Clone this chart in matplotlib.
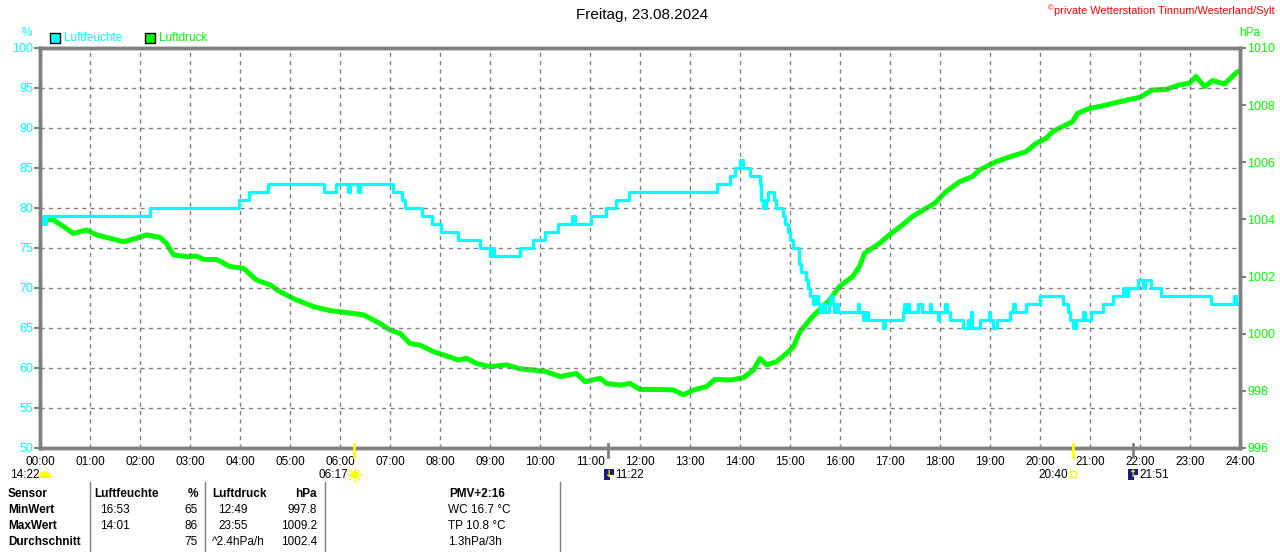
import matplotlib
matplotlib.use("Agg")
import matplotlib.pyplot as plt
from matplotlib.patches import Rectangle, Wedge, Circle

plt.rcParams['font.family'] = ['Liberation Sans', 'DejaVu Sans']

# ---------------- data ----------------
title = "Freitag, 23.08.2024"
copyright_text = "private Wetterstation Tinnum/Westerland/Sylt"
hours = list(range(25))
hour_labels = [f"{h:02d}:00" for h in hours]
hum_ticks = [50, 55, 60, 65, 70, 75, 80, 85, 90, 95, 100]
press_ticks = [996, 998, 1000, 1002, 1004, 1006, 1008, 1010]

# humidity (%) - step series (time in hours, value)
hum_t = [0.0, 0.05, 0.08, 0.12, 2.19, 3.97, 4.18, 4.55, 5.67, 5.91, 6.15, 6.2,
         6.35, 6.4, 7.05, 7.23, 7.3, 7.63, 7.83, 8.03, 8.37, 8.8, 9.0, 9.04,
         9.07, 9.6, 9.85, 10.1, 10.35, 10.63, 10.7, 11.01, 11.32, 11.52, 11.77,
         13.53, 13.8, 13.9, 14.0, 14.05, 14.2, 14.39, 14.42, 14.45, 14.52, 14.55,
         14.67, 14.72, 14.8, 14.85, 14.9, 14.95, 15.0, 15.05, 15.18, 15.22, 15.32,
         15.36, 15.40, 15.45, 15.5, 15.55, 15.6, 15.65, 15.7, 15.77, 15.8, 15.85,
         15.88, 15.92, 15.96, 16.35, 16.38, 16.45, 16.5, 16.55, 16.86, 16.9,
         17.25, 17.28, 17.31, 17.34, 17.37, 17.55, 17.65, 17.8, 17.83, 17.95,
         17.98, 18.1, 18.13, 18.2, 18.45, 18.55, 18.58, 18.62, 18.65, 18.8,
         18.97, 19.0, 19.05, 19.15, 19.39, 19.45, 19.5, 19.72, 19.99, 20.45,
         20.55, 20.6, 20.65, 20.72, 20.85, 20.9, 21.02, 21.25, 21.45, 21.65,
         21.72, 21.76, 21.95, 22.06, 22.1, 22.21, 22.42, 23.42, 23.88, 23.92, 24.0]
hum_v = [78, 79, 78, 79, 80, 81, 82, 83, 82, 83, 82, 83,
         82, 83, 82, 81, 80, 79, 78, 77, 76, 75, 74, 75,
         74, 75, 76, 77, 78, 79, 78, 79, 80, 81, 82,
         83, 84, 85, 86, 85, 84, 83, 81, 80, 81, 82,
         81, 80, 80, 79, 78, 77, 76, 75, 73, 72, 71,
         70, 69, 68, 69, 68, 67, 68, 67, 68, 69, 68,
         67, 68, 67, 68, 67, 66, 67, 66, 65, 66,
         67, 68, 67, 68, 67, 68, 67, 68, 67, 66,
         67, 68, 67, 66, 65, 66, 65, 67, 65, 66,
         67, 66, 65, 66, 67, 68, 67, 68, 69, 68,
         67, 66, 65, 66, 67, 66, 67, 68, 69, 70,
         69, 70, 71, 70, 71, 70, 69, 68, 69, 68, 68]

# air pressure (hPa)
press_t = [0.0, 0.1, 0.27, 0.47, 0.67, 0.93, 1.13, 1.4, 1.67, 1.93, 2.13, 2.4,
           2.53, 2.67, 2.93, 3.13, 3.27, 3.53, 3.8, 4.07, 4.33, 4.6, 4.8, 5.13,
           5.47, 5.8, 6.13, 6.47, 6.8, 7.0, 7.2, 7.4, 7.6, 7.87, 8.07, 8.37,
           8.53, 8.73, 9.0, 9.33, 9.6, 9.87, 10.13, 10.4, 10.73, 10.9, 11.2,
           11.33, 11.6, 11.8, 12.0, 12.4, 12.67, 12.87, 13.07, 13.33, 13.5,
           13.8, 14.07, 14.27, 14.4, 14.53, 14.73, 14.93, 15.07, 15.2, 15.45,
           15.79, 15.99, 16.25, 16.39, 16.49, 16.59, 16.79, 16.99, 17.25,
           17.45, 17.72, 17.89, 18.12, 18.39, 18.65, 18.79, 19.12, 19.45,
           19.72, 19.92, 20.12, 20.25, 20.45, 20.65, 20.75, 20.99, 21.19,
           21.45, 21.79, 21.99, 22.25, 22.52, 22.79, 22.99, 23.12, 23.29,
           23.45, 23.69, 23.95, 24.0]
press_v = [1003.9, 1004.0, 1003.98, 1003.75, 1003.51, 1003.63, 1003.46, 1003.34,
           1003.22, 1003.34, 1003.46, 1003.37, 1003.16, 1002.76, 1002.70, 1002.72,
           1002.60, 1002.60, 1002.35, 1002.29, 1001.88, 1001.71, 1001.47, 1001.18,
           1000.95, 1000.81, 1000.74, 1000.66, 1000.36, 1000.13, 1000.01, 999.66,
           999.60, 999.37, 999.26, 999.08, 999.14, 998.96, 998.85, 998.91, 998.77,
           998.73, 998.67, 998.50, 998.61, 998.32, 998.44, 998.26, 998.20, 998.26,
           998.05, 998.05, 998.03, 997.86, 998.03, 998.15, 998.40, 998.38, 998.46,
           998.73, 999.14, 998.91, 999.02, 999.31, 999.55, 1000.07, 1000.60,
           1001.18, 1001.65, 1002.00, 1002.35, 1002.81, 1002.93, 1003.16, 1003.46,
           1003.81, 1004.10, 1004.39, 1004.56, 1004.97, 1005.32, 1005.50, 1005.73,
           1006.02, 1006.22, 1006.37, 1006.66, 1006.84, 1007.07, 1007.25, 1007.42,
           1007.71, 1007.89, 1007.95, 1008.06, 1008.20, 1008.27, 1008.53, 1008.55,
           1008.71, 1008.77, 1009.00, 1008.65, 1008.86, 1008.74, 1009.17, 1009.2]

# sun / moon events
sunrise_t, sunrise_lbl = 6 + 17 / 60, "06:17"
sunset_t, sunset_lbl = 20 + 40 / 60, "20:40"
moon1_t, moon1_lbl = 11 + 22 / 60, "11:22"
moon2_t, moon2_lbl = 21 + 51 / 60, "21:51"
daylen_lbl = "14:22"

# table
tbl_header = ["Sensor", "Luftfeuchte", "%", "Luftdruck", "hPa", "PMV+2:16"]
tbl_rows = ["MinWert", "MaxWert", "Durchschnitt"]
hum_times = ["16:53", "14:01", ""]
hum_vals = ["65", "86", "75"]
press_times = ["12:49", "23:55", "^2.4hPa/h"]
press_vals = ["997.8", "1009.2", "1002.4"]
extra_vals = ["WC 16.7 °C", "TP 10.8 °C", "1.3hPa/3h"]

CYAN = "#00FFFF"
GREEN = "#00FF00"
GRAY = "#808080"
YELLOW = "#FFFF00"

W, H = 1280, 552
fig = plt.figure(figsize=(W / 100, H / 100), dpi=100)
ax = fig.add_axes([40 / W, 1 - 448 / H, 1200 / W, 400 / H])
ax2 = ax.twinx()

ax.set_xlim(0, 24)
ax.set_ylim(50, 100)
ax2.set_ylim(996, 1010)
ax.set_zorder(ax2.get_zorder() + 1)
ax.patch.set_visible(False)

ax.grid(True, color=GRAY, linestyle=(0, (3, 3)), linewidth=1)
ax.set_axisbelow(True)

ax2.plot(press_t, press_v, color=GREEN, linewidth=3.6, solid_capstyle='butt')
ax.step(hum_t, hum_v, where='post', color=CYAN, linewidth=2.3)

for a in (ax, ax2):
    for s in a.spines.values():
        s.set_color(GRAY)
        s.set_linewidth(2.5)

ax.set_xticks(hours)
ax.set_xticklabels(hour_labels)
ax.set_yticks(hum_ticks)
ax.set_yticklabels([str(v) for v in hum_ticks])
ax2.set_yticks(press_ticks)
ax2.set_yticklabels([str(v) for v in press_ticks])
ax.tick_params(axis='x', length=0, pad=6, labelsize=8.5, labelcolor='black')
ax.tick_params(axis='y', length=4, width=1.5, color=GRAY, pad=1,
               labelsize=9, labelcolor=CYAN)
ax2.tick_params(axis='y', length=4, width=1.5, color=GRAY, pad=1,
                labelsize=9, labelcolor=GREEN)

# sun / moon markers on the time axis
xt = ax.get_xaxis_transform()
px = 1 / 400.0
for t, col, lw in [(sunrise_t, YELLOW, 2), (sunset_t, YELLOW, 2),
                   (moon1_t, GRAY, 2), (moon2_t, GRAY, 2)]:
    ax.plot([t, t], [4 * px, -9 * px], color=col, linewidth=lw,
            transform=xt, clip_on=False, zorder=5)

ty = -27 * px
lfs = 8.5
ax.text(sunrise_t - 0.11, ty, sunrise_lbl, transform=xt, ha='right', va='center', fontsize=lfs)
ax.text(sunset_t - 0.1, ty, sunset_lbl, transform=xt, ha='right', va='center', fontsize=lfs)
ax.text(moon1_t + 0.13, ty, moon1_lbl, transform=xt, ha='left', va='center', fontsize=lfs)
ax.text(moon2_t + 0.13, ty, moon2_lbl, transform=xt, ha='left', va='center', fontsize=lfs)

# overlay in pixel coordinates for decorations
ov = fig.add_axes([0, 0, 1, 1], zorder=10)
ov.set_xlim(0, W)
ov.set_ylim(H, 0)
ov.axis('off')
ov.patch.set_visible(False)

# icons
ov.add_patch(Circle((355, 475), 4, facecolor=YELLOW, edgecolor='none'))
for dx, dy in [(0, -7), (0, 7), (-7, 0), (7, 0), (5, 5), (-5, 5), (5, -5), (-5, -5)]:
    ov.plot([355 + dx * 0.75, 355 + dx], [475 + dy * 0.75, 475 + dy], color=YELLOW, lw=1)
ov.add_patch(Rectangle((1070, 471), 6, 6, facecolor='none', edgecolor=YELLOW, lw=1))
ov.add_patch(Wedge((45, 477), 6, 180, 360, facecolor=YELLOW, edgecolor='none'))
ov.add_patch(Rectangle((38, 476), 14, 2, facecolor=YELLOW, edgecolor='none'))
ov.text(10, 475, daylen_lbl, ha='left', va='center', fontsize=lfs)
for xx, arrow in [(604, "↓"), (1128, "↑")]:
    ov.add_patch(Rectangle((xx, 469), 10, 11, facecolor='#1a1a80', edgecolor='none'))
    ov.add_patch(Rectangle((xx + 6, 475), 4, 5, facecolor='white', edgecolor='none'))
    ov.text(xx + 4, 474, arrow, color=YELLOW, fontsize=7, ha='center', va='center',
            family='DejaVu Sans', fontweight='bold')

# title / copyright / legend / units
ov.text(642, 15, title, ha='center', va='center', fontsize=11)
ov.text(1275, 11, copyright_text, ha='right', va='center', fontsize=7.9, color='red')
ov.text(1051, 9, "©", ha='center', va='center', fontsize=5.5, color='red')
ov.text(27, 33, "%", ha='center', va='center', fontsize=8.5, color=CYAN)
ov.text(1250, 33, "hPa", ha='center', va='center', fontsize=8.5, color=GREEN)
ov.add_patch(Rectangle((50, 33), 10, 10, facecolor=CYAN, edgecolor='black', lw=1))
ov.text(64, 38, "Luftfeuchte", ha='left', va='center', fontsize=8.5, color=CYAN)
ov.add_patch(Rectangle((145, 33), 10, 10, facecolor=GREEN, edgecolor='black', lw=1))
ov.text(159, 38, "Luftdruck", ha='left', va='center', fontsize=8.5, color=GREEN)

# table
for xx in (90, 205, 325, 560):
    ov.plot([xx, xx], [482, 552], color=GRAY, linewidth=1)
rows_y = [494, 510, 526, 542]
fs = 8.5
ov.text(8, rows_y[0], tbl_header[0], ha='left', va='center', fontsize=fs, fontweight='bold')
ov.text(94, rows_y[0], tbl_header[1], ha='left', va='center', fontsize=fs, fontweight='bold')
ov.text(198, rows_y[0], tbl_header[2], ha='right', va='center', fontsize=fs, fontweight='bold')
ov.text(212, rows_y[0], tbl_header[3], ha='left', va='center', fontsize=fs, fontweight='bold')
ov.text(317, rows_y[0], tbl_header[4], ha='right', va='center', fontsize=fs, fontweight='bold')
ov.text(477, rows_y[0], tbl_header[5], ha='center', va='center', fontsize=fs, fontweight='bold')
for i, r in enumerate(tbl_rows):
    y = rows_y[i + 1]
    ov.text(8, y, r, ha='left', va='center', fontsize=fs, fontweight='bold')
    ov.text(100, y, hum_times[i], ha='left', va='center', fontsize=fs)
    ov.text(198, y, hum_vals[i], ha='right', va='center', fontsize=fs)
    ov.text(212 if press_times[i].startswith('^') else 218, y, press_times[i],
            ha='left', va='center', fontsize=fs)
    ov.text(317, y, press_vals[i], ha='right', va='center', fontsize=fs)
    ov.text(448, y, extra_vals[i], ha='left', va='center', fontsize=fs)

fig.savefig("out.png", dpi=100)
